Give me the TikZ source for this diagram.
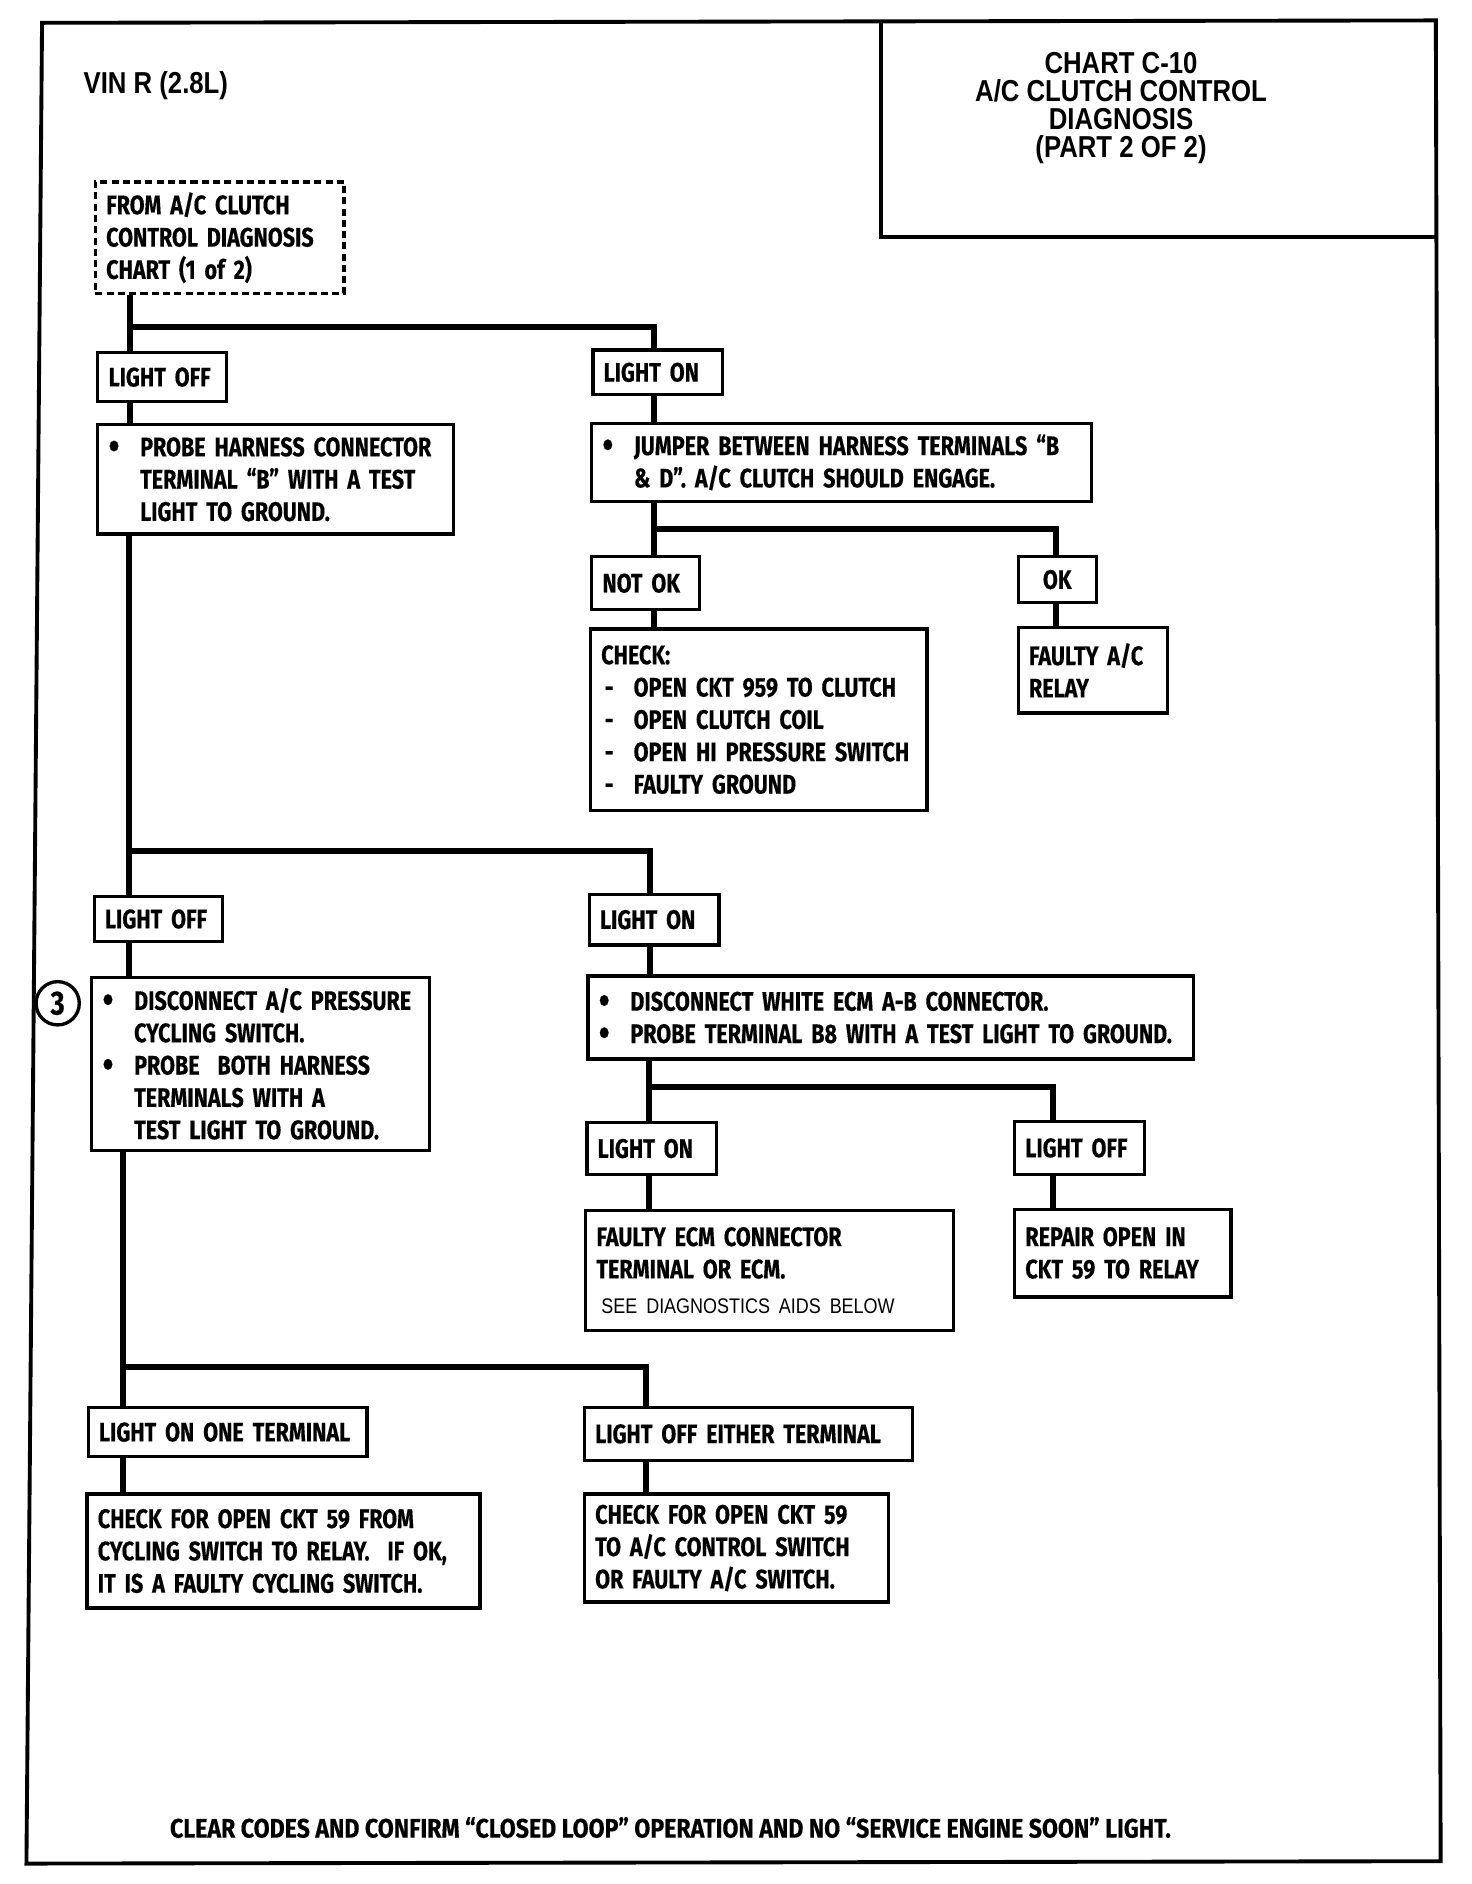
\documentclass[tikz,border=0pt]{standalone}
\usepackage{fontspec}
\setmainfont{Fira Sans}[FakeStretch=0.805, BoldFeatures={FakeBold=0.4}]
\newfontfamily\notefont{Fira Sans}[Ligatures=TeX, FakeStretch=0.865, BoldFeatures={FakeBold=0.4}]
\newfontfamily\headfont{Liberation Sans}[FakeStretch=0.85]
\usetikzlibrary{positioning}
\newcommand{\chart}{\bfseries\fontsize{7.6}{9.18}\selectfont\hyphenpenalty=10000\exhyphenpenalty=10000}
\newcommand{\headtxt}{\headfont\bfseries\fontsize{8.6}{7.94}\selectfont}
\newcommand{\bul}{\makebox[0.315cm][l]{\raisebox{-0.03cm}[0pt][0pt]{\fontsize{11}{0}\selectfont\textbullet}}}
\newcommand{\ind}{\hspace*{0.315cm}}
\newcommand{\chk}{\makebox[0.324cm][l]{\hspace{0.036cm}-}}

\begin{document}
\begin{tikzpicture}[
    x=0.012cm, y=-0.012cm,
    box/.style 2 args={draw, line width=0.95pt, anchor=north west,
        inner xsep=9*0.012cm, inner ysep=0pt,
        minimum width=#1*0.012cm, minimum height=#2*0.012cm,
        text width={(#1-18)*0.012cm}, align=left, font=\chart},
    wire/.style={line width=1.7pt},
    frame/.style={line width=1.1pt}
]
\useasboundingbox (0,0) rectangle (1225,1568);

% page frame and title block
\draw[frame] (35,19) -- (1195,17) -- (1199,1549) -- (22,1551) -- cycle;
\draw[frame] (733,18) -- (733,197) -- (1196,197);
\node[font=\headtxt, align=center, inner sep=0pt] (title) at (933,90)
    {CHART C-10\\A/C CLUTCH CONTROL\\DIAGNOSIS\\(PART 2 OF 2)};
\node[font=\headtxt, anchor=west, inner sep=0pt] (vin) at (69,71) {VIN R (2.8L)};

% first test
\node[box={207}{93}, dashed, dash pattern=on 2pt off 1.2pt] (from) at (78,150)
    {FROM A/C CLUTCH\\CONTROL DIAGNOSIS\\CHART (1 of 2)};
\node[box={107}{41}] (offA) at (80,292) {LIGHT OFF};
\node[box={296}{91}] (probe) at (80,352)
    {\bul PROBE HARNESS CONNECTOR\\\ind TERMINAL “B” WITH A TEST\\\ind LIGHT TO GROUND.};
\node[box={108}{37}] (onA) at (492,290) {LIGHT ON};
\node[box={416}{65}] (jumper) at (491,351)
    {\bul JUMPER BETWEEN HARNESS TERMINALS “B\\\ind \& D”. A/C CLUTCH SHOULD ENGAGE.};
\node[box={90}{44}] (notok) at (491,462) {NOT OK};
\node[box={65}{38}, align=center] (ok) at (846,462) {OK};
\node[box={280}{151}] (check) at (490,522)
    {CHECK:\\\chk OPEN CKT 959 TO CLUTCH\\\chk OPEN CLUTCH COIL\\\chk OPEN HI PRESSURE SWITCH\\\chk FAULTY GROUND};
\node[box={124}{71}] (relay) at (846,521) {FAULTY A/C\\RELAY};

% second test
\node[box={107}{37}] (offB) at (77,745) {LIGHT OFF};
\node[box={281}{144}] (pressure) at (75,812)
    {\bul DISCONNECT A/C PRESSURE\\\ind CYCLING SWITCH.\\\bul PROBE\ \ BOTH HARNESS\\\ind TERMINALS WITH A\\\ind TEST LIGHT TO GROUND.};
\node[draw, circle, line width=0.95pt, minimum size=36*0.012cm, inner sep=0pt,
    font=\bfseries\fontsize{9.5}{9.5}\selectfont] (three) at (48,835) {3};
\node[box={108}{42}] (onB) at (489,743) {LIGHT ON};
\node[box={504}{69}] (ecmconn) at (488,811)
    {\bul DISCONNECT WHITE ECM A-B CONNECTOR.\\\bul PROBE TERMINAL B8 WITH A TEST LIGHT TO GROUND.};
\node[box={108}{43}] (onC) at (487,933) {LIGHT ON};
\node[box={108}{44}] (offC) at (843,932) {LIGHT OFF};
\node[box={306}{100}] (ecm) at (486,1006)
    {FAULTY ECM CONNECTOR\\TERMINAL OR ECM.\\[0.03cm]
    \hspace*{0.05cm}{\headfont\mdseries\fontsize{6}{9.18}\selectfont SEE DIAGNOSTICS AIDS BELOW}};
\node[box={180}{73}] (repair) at (843,1005) {REPAIR OPEN IN\\CKT 59 TO RELAY};

% third test
\node[box={232}{41}] (onone) at (72,1170) {LIGHT ON ONE TERMINAL};
\node[box={327}{95}] (cyclingchk) at (71,1242)
    {CHECK FOR OPEN CKT 59 FROM\\CYCLING SWITCH TO RELAY.\ \ IF OK,\\IT IS A FAULTY CYCLING SWITCH.};
\node[box={273}{44}] (offeither) at (485,1170) {LIGHT OFF EITHER TERMINAL};
\node[box={253}{90}] (controlchk) at (485,1242)
    {CHECK FOR OPEN CKT 59\\TO A/C CONTROL SWITCH\\OR FAULTY A/C SWITCH.};

\node[font=\notefont\bfseries\fontsize{7.6}{9.18}\selectfont, inner sep=0pt] (note) at (558,1521)
    {CLEAR CODES AND CONFIRM “CLOSED LOOP” OPERATION AND NO “SERVICE ENGINE SOON” LIGHT.};

% branch points
\coordinate (b1) at (108,272);  \coordinate (b1r) at (544,272);
\coordinate (b2) at (544,440);  \coordinate (b2r) at (879,440);
\coordinate (b3) at (107,708);  \coordinate (b3r) at (541,708);
\coordinate (b4) at (540,905);  \coordinate (b4r) at (876,905);
\coordinate (b5) at (102,1138); \coordinate (b5r) at (538,1138);

% connectors
\draw[wire] (from.south -| b1) -- (offA.north -| b1);
\draw[wire] (b1) -- (b1r) -- (onA.north -| b1r);
\draw[wire] (offA.south -| b1) -- (probe.north -| b1);
\draw[wire] (onA.south -| b1r) -- (jumper.north -| b1r);
\draw[wire] (jumper.south -| b2) -- (notok.north -| b2);
\draw[wire] (b2) -- (b2r) -- (ok.north -| b2r);
\draw[wire] (notok.south -| b2) -- (check.north -| b2);
\draw[wire] (ok.south -| b2r) -- (relay.north -| b2r);

\draw[wire] (probe.south -| b3) -- (offB.north -| b3);
\draw[wire] (b3) -- (b3r) -- (onB.north -| b3r);
\draw[wire] (offB.south -| b3) -- (pressure.north -| b3);
\draw[wire] (onB.south -| b3r) -- (ecmconn.north -| b3r);
\draw[wire] (ecmconn.south -| b4) -- (onC.north -| b4);
\draw[wire] (b4) -- (b4r) -- (offC.north -| b4r);
\draw[wire] (onC.south -| b4) -- (ecm.north -| b4);
\draw[wire] (offC.south -| b4r) -- (repair.north -| b4r);

\draw[wire] (pressure.south -| b5) -- (onone.north -| b5);
\draw[wire] (b5) -- (b5r) -- (offeither.north -| b5r);
\draw[wire] (onone.south -| b5) -- (cyclingchk.north -| b5);
\draw[wire] (offeither.south -| b5r) -- (controlchk.north -| b5r);
\end{tikzpicture}
\end{document}
